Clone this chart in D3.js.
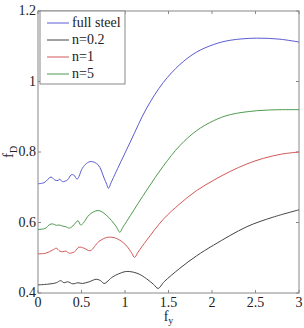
<!DOCTYPE html>
<html lang="en">
<head>
<meta charset="UTF-8">
<title>fD vs fy</title>
<style>
  body { margin: 0; background: #fff; }
  svg { display: block; }
</style>
<script src="https://d3js.org/d3.v7.min.js"></script>
</head>
<body>
<div id="chart"></div>
<script>
// series values
var steelX = [0, 0.07, 0.15, 0.19, 0.23, 0.25, 0.28, 0.34, 0.38, 0.41, 0.45, 0.51, 0.56, 0.61, 0.69, 0.76, 0.79, 0.81, 0.84, 0.90, 1.06, 1.25, 1.44, 1.63, 1.82, 2.02, 2.21, 2.51, 2.78, 3.0];
var steelY = [0.71, 0.713, 0.729, 0.721, 0.719, 0.723, 0.716, 0.721, 0.735, 0.735, 0.723, 0.754, 0.768, 0.773, 0.764, 0.726, 0.708, 0.697, 0.713, 0.745, 0.828, 0.925, 0.997, 1.048, 1.083, 1.105, 1.117, 1.123, 1.12, 1.112];

var n5X = [0, 0.09, 0.13, 0.17, 0.21, 0.24, 0.28, 0.32, 0.36, 0.40, 0.46, 0.49, 0.52, 0.59, 0.69, 0.78, 0.90, 0.92, 0.94, 0.98, 1.06, 1.25, 1.44, 1.63, 1.82, 2.02, 2.21, 2.51, 2.78, 3.0];
var n5Y = [0.58, 0.584, 0.594, 0.596, 0.592, 0.593, 0.59, 0.588, 0.584, 0.59, 0.605, 0.593, 0.598, 0.622, 0.634, 0.622, 0.588, 0.579, 0.572, 0.588, 0.619, 0.692, 0.76, 0.818, 0.86, 0.889, 0.906, 0.917, 0.92, 0.92];

var n1X = [0, 0.09, 0.17, 0.21, 0.25, 0.28, 0.32, 0.36, 0.42, 0.47, 0.53, 0.60, 0.70, 0.80, 0.90, 1.01, 1.08, 1.11, 1.15, 1.25, 1.44, 1.63, 1.82, 2.02, 2.21, 2.4, 2.59, 2.8, 3.0];
var n1Y = [0.511, 0.513, 0.522, 0.527, 0.519, 0.517, 0.519, 0.513, 0.517, 0.53, 0.527, 0.52, 0.546, 0.558, 0.555, 0.536, 0.512, 0.501, 0.516, 0.55, 0.609, 0.653, 0.69, 0.72, 0.745, 0.766, 0.782, 0.794, 0.80];

var n02X = [0, 0.11, 0.21, 0.26, 0.30, 0.34, 0.40, 0.46, 0.51, 0.59, 0.67, 0.72, 0.76, 0.86, 0.99, 1.05, 1.15, 1.25, 1.33, 1.38, 1.45, 1.63, 1.82, 2.02, 2.4, 2.7, 3.0];
var n02Y = [0.423, 0.425, 0.429, 0.435, 0.429, 0.432, 0.426, 0.429, 0.427, 0.432, 0.439, 0.435, 0.427, 0.446, 0.46, 0.461, 0.455, 0.44, 0.424, 0.413, 0.432, 0.47, 0.505, 0.536, 0.588, 0.615, 0.636];

var seriesNames = ['full steel', 'n=0.2', 'n=1', 'n=5'];
var seriesColors = ['#5b5bd2', '#444444', '#d25858', '#4f9a4f'];
var seriesX = [steelX, n02X, n1X, n5X];
var seriesY = [steelY, n02Y, n1Y, n5Y];

var xTicks = [0, 0.5, 1, 1.5, 2, 2.5, 3];
var yTicks = [0.4, 0.6, 0.8, 1, 1.2];

var width = 304, height = 328;
var margin = {top: 11, right: 5, bottom: 35, left: 38};
var serif = "'Liberation Serif', 'DejaVu Serif', serif";

var svg = d3.select('#chart').append('svg')
    .attr('width', width)
    .attr('height', height)
    .style('font-family', serif);

var x = d3.scaleLinear().domain([0, 3]).range([margin.left, width - margin.right]);
var y = d3.scaleLinear().domain([0.4, 1.2]).range([height - margin.bottom, margin.top]);

var axisColor = '#888';

// box
svg.append('rect')
    .attr('x', x(0)).attr('y', y(1.2))
    .attr('width', x(3) - x(0)).attr('height', y(0.4) - y(1.2))
    .attr('fill', 'none').attr('stroke', axisColor).attr('stroke-width', 1);

// ticks inside, labels outside
var tickLen = 3;
xTicks.forEach(function (t) {
    svg.append('line').attr('x1', x(t)).attr('x2', x(t))
        .attr('y1', y(0.4)).attr('y2', y(0.4) - tickLen).attr('stroke', axisColor);
    svg.append('line').attr('x1', x(t)).attr('x2', x(t))
        .attr('y1', y(1.2)).attr('y2', y(1.2) + tickLen).attr('stroke', axisColor);
    svg.append('text').attr('x', x(t)).attr('y', y(0.4) + 14)
        .attr('text-anchor', 'middle').attr('font-size', 14).attr('fill', '#222')
        .text(d3.format('')(t));
});
yTicks.forEach(function (t) {
    svg.append('line').attr('x1', x(0)).attr('x2', x(0) + tickLen)
        .attr('y1', y(t)).attr('y2', y(t)).attr('stroke', axisColor);
    svg.append('line').attr('x1', x(3)).attr('x2', x(3) - tickLen)
        .attr('y1', y(t)).attr('y2', y(t)).attr('stroke', axisColor);
    svg.append('text').attr('x', x(0) - 2).attr('y', y(t) + 4)
        .attr('text-anchor', 'end').attr('font-size', 14).attr('fill', '#222')
        .text(d3.format('')(t));
});

// curves
var line = d3.line()
    .x(function (d) { return x(d[0]); })
    .y(function (d) { return y(d[1]); })
    .curve(d3.curveCatmullRom.alpha(0.5));

seriesNames.forEach(function (name, i) {
    var pts = seriesX[i].map(function (v, j) { return [v, seriesY[i][j]]; });
    svg.append('path')
        .datum(pts)
        .attr('d', line)
        .attr('fill', 'none')
        .attr('stroke', seriesColors[i])
        .attr('stroke-width', 1);
});

// legend
var lg = svg.append('g').attr('transform', 'translate(' + (x(0) + 2) + ',' + (y(1.2)) + ')');
lg.append('rect').attr('width', 85).attr('height', 73)
    .attr('fill', '#fff').attr('stroke', axisColor);
seriesNames.forEach(function (name, i) {
    var yy = 12 + i * 17;
    lg.append('line').attr('x1', 7).attr('x2', 29).attr('y1', yy).attr('y2', yy)
        .attr('stroke', seriesColors[i]);
    lg.append('text').attr('x', 32).attr('y', yy + 4).attr('font-size', 14).attr('fill', '#222')
        .text(name);
});

// axis labels
var yl = svg.append('text').attr('transform', 'translate(13,' + y(0.8) + ') rotate(-90)')
    .attr('text-anchor', 'middle').attr('font-size', 15).attr('fill', '#222');
yl.append('tspan').text('f');
yl.append('tspan').attr('font-size', 10).attr('dy', 4).text('D');

var xl = svg.append('text').attr('x', x(1.5)).attr('y', 321)
    .attr('text-anchor', 'middle').attr('font-size', 14).attr('fill', '#222');
xl.append('tspan').text('f');
xl.append('tspan').attr('font-size', 10).attr('dy', 3).text('y');
</script>
</body>
</html>
